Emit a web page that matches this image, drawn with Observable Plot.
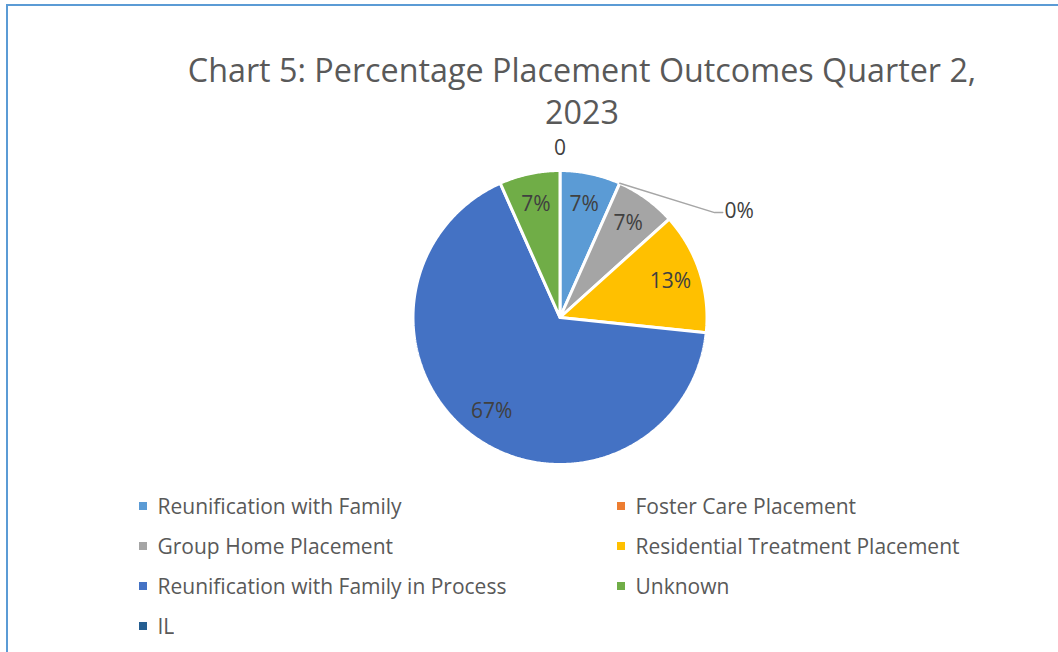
<!DOCTYPE html>
<html>
<head>
<meta charset="utf-8">
<script src="https://cdn.jsdelivr.net/npm/d3@7"></script>
<script src="https://cdn.jsdelivr.net/npm/@observablehq/plot@0.6"></script>
<style>
  html, body { margin: 0; padding: 0; background: #fff; }
  #wrap { position: relative; width: 1058px; height: 652px; overflow: hidden; font-family: "Open Sans", sans-serif; }
  #frame { position: absolute; left: 6px; top: 4px; width: 1100px; height: 700px;
           border-left: 2px solid #5b9bd5; border-top: 2px solid #5b9bd5; box-sizing: border-box; }
  #chart { position: absolute; left: 0; top: 0; }
  #title { position: absolute; left: 132px; width: 900px; top: 48px; text-align: center;
           font-family: "Open Sans", sans-serif; font-size: 32.3px; line-height: 42px; color: #595959; }
  #legend { position: absolute; left: 139px; top: 486px; }
  .lg-swatches { width: 956px !important; column-gap: 0 !important; margin: 0 !important; }
  .lg-swatch { height: 40px !important; padding: 0 !important; display: flex !important; align-items: center !important; }
</style>
</head>
<body>
<div id="wrap">
  <div id="frame"></div>
  <div id="chart"></div>
  <div id="title">Chart 5: Percentage Placement Outcomes Quarter 2,<br>2023</div>
  <div id="legend"></div>
</div>
<script>
// ---- data (15 cases in total) ----
const categories = [
  "Reunification with Family",
  "Foster Care Placement",
  "Group Home Placement",
  "Residential Treatment Placement",
  "Reunification with Family in Process",
  "Unknown",
  "IL"
];
const values = [1, 0, 1, 2, 10, 1, 0];
const sliceLabels = ["7%", "0%", "7%", "13%", "67%", "7%", "0"];
const colors = ["#5b9bd5", "#ed7d31", "#a5a5a5", "#ffc000", "#4472c4", "#70ad47", "#255e91"];
// legend reading order (two columns, filled top-down)
const legendOrder = [0, 2, 4, 6, 1, 3, 5];

// ---- geometry from d3.pie (angle 0 at 12 o'clock, clockwise) ----
const arcs = d3.pie().sort(null).value(d => d)(values);
const pt = (a, r) => [r * Math.sin(a), r * Math.cos(a)];

const sliceRows = [];
arcs.forEach((arc, i) => {
  if (arc.endAngle - arc.startAngle <= 0) return;
  const cat = categories[i];
  sliceRows.push({cat, x: 0, y: 0});
  const n = Math.max(2, Math.ceil((arc.endAngle - arc.startAngle) / (Math.PI / 360)));
  for (let k = 0; k <= n; k++) {
    const a = arc.startAngle + (arc.endAngle - arc.startAngle) * k / n;
    const [x, y] = pt(a, 1);
    sliceRows.push({cat, x, y});
  }
  sliceRows.push({cat, x: 0, y: 0});
});

// label positions
const insideR = 0.79;
const labelRows = [];
const leaderRows = [];
arcs.forEach((arc, i) => {
  const mid = (arc.startAngle + arc.endAngle) / 2;
  if (values[i] > 0) {
    const [x, y] = pt(mid, insideR);
    labelRows.push({x, y, text: sliceLabels[i], anchor: "middle"});
  }
});
// zero-value "Foster Care Placement": outside label with leader line
{
  const a = arcs[1].startAngle;
  const [x0, y0] = pt(a, 1);
  const elbow = [x0 + 0.645, y0 - 0.2];
  const end = [elbow[0] + 0.055, elbow[1]];
  leaderRows.push({x: x0, y: y0}, {x: elbow[0], y: elbow[1]}, {x: end[0], y: end[1]});
  labelRows.push({x: end[0] + 0.012, y: end[1] + 0.01, text: sliceLabels[1], anchor: "start"});
}
// zero-value "IL": outside label above the pie
{
  const [x, y] = pt(arcs[6].startAngle, 1.15);
  labelRows.push({x, y, text: sliceLabels[6], anchor: "middle"});
}

const chart = Plot.plot({
  width: 1058,
  height: 652,
  marginLeft: 412.5,
  marginRight: 351.5,
  marginTop: 170,
  marginBottom: 188,
  x: {domain: [-1, 1], axis: null},
  y: {domain: [-1, 1], axis: null},
  color: {domain: categories, range: colors},
  style: {fontFamily: "Open Sans, sans-serif", background: "transparent", overflow: "visible"},
  marks: [
    Plot.line(sliceRows, {x: "x", y: "y", z: "cat", fill: "cat", stroke: "white", strokeWidth: 3, strokeLinejoin: "miter", curve: "linear"}),
    Plot.line(leaderRows, {x: "x", y: "y", stroke: "#a6a6a6", strokeWidth: 1.5, curve: "linear"}),
    Plot.text(labelRows.filter(d => d.anchor === "middle"), {x: "x", y: "y", text: "text", fill: "#404040", fontSize: 21, textAnchor: "middle"}),
    Plot.text(labelRows.filter(d => d.anchor === "start"), {x: "x", y: "y", text: "text", fill: "#404040", fontSize: 21, textAnchor: "start"})
  ]
});
document.getElementById("chart").append(chart);

const legend = Plot.legend({
  legend: "swatches",
  color: {type: "ordinal", domain: legendOrder.map(i => categories[i]), range: legendOrder.map(i => colors[i])},
  columns: 2,
  swatchSize: 8,
  className: "lg",
  style: {fontFamily: "Open Sans, sans-serif", fontSize: "21px", color: "#595959"}
});
document.getElementById("legend").append(legend);
</script>
</body>
</html>
